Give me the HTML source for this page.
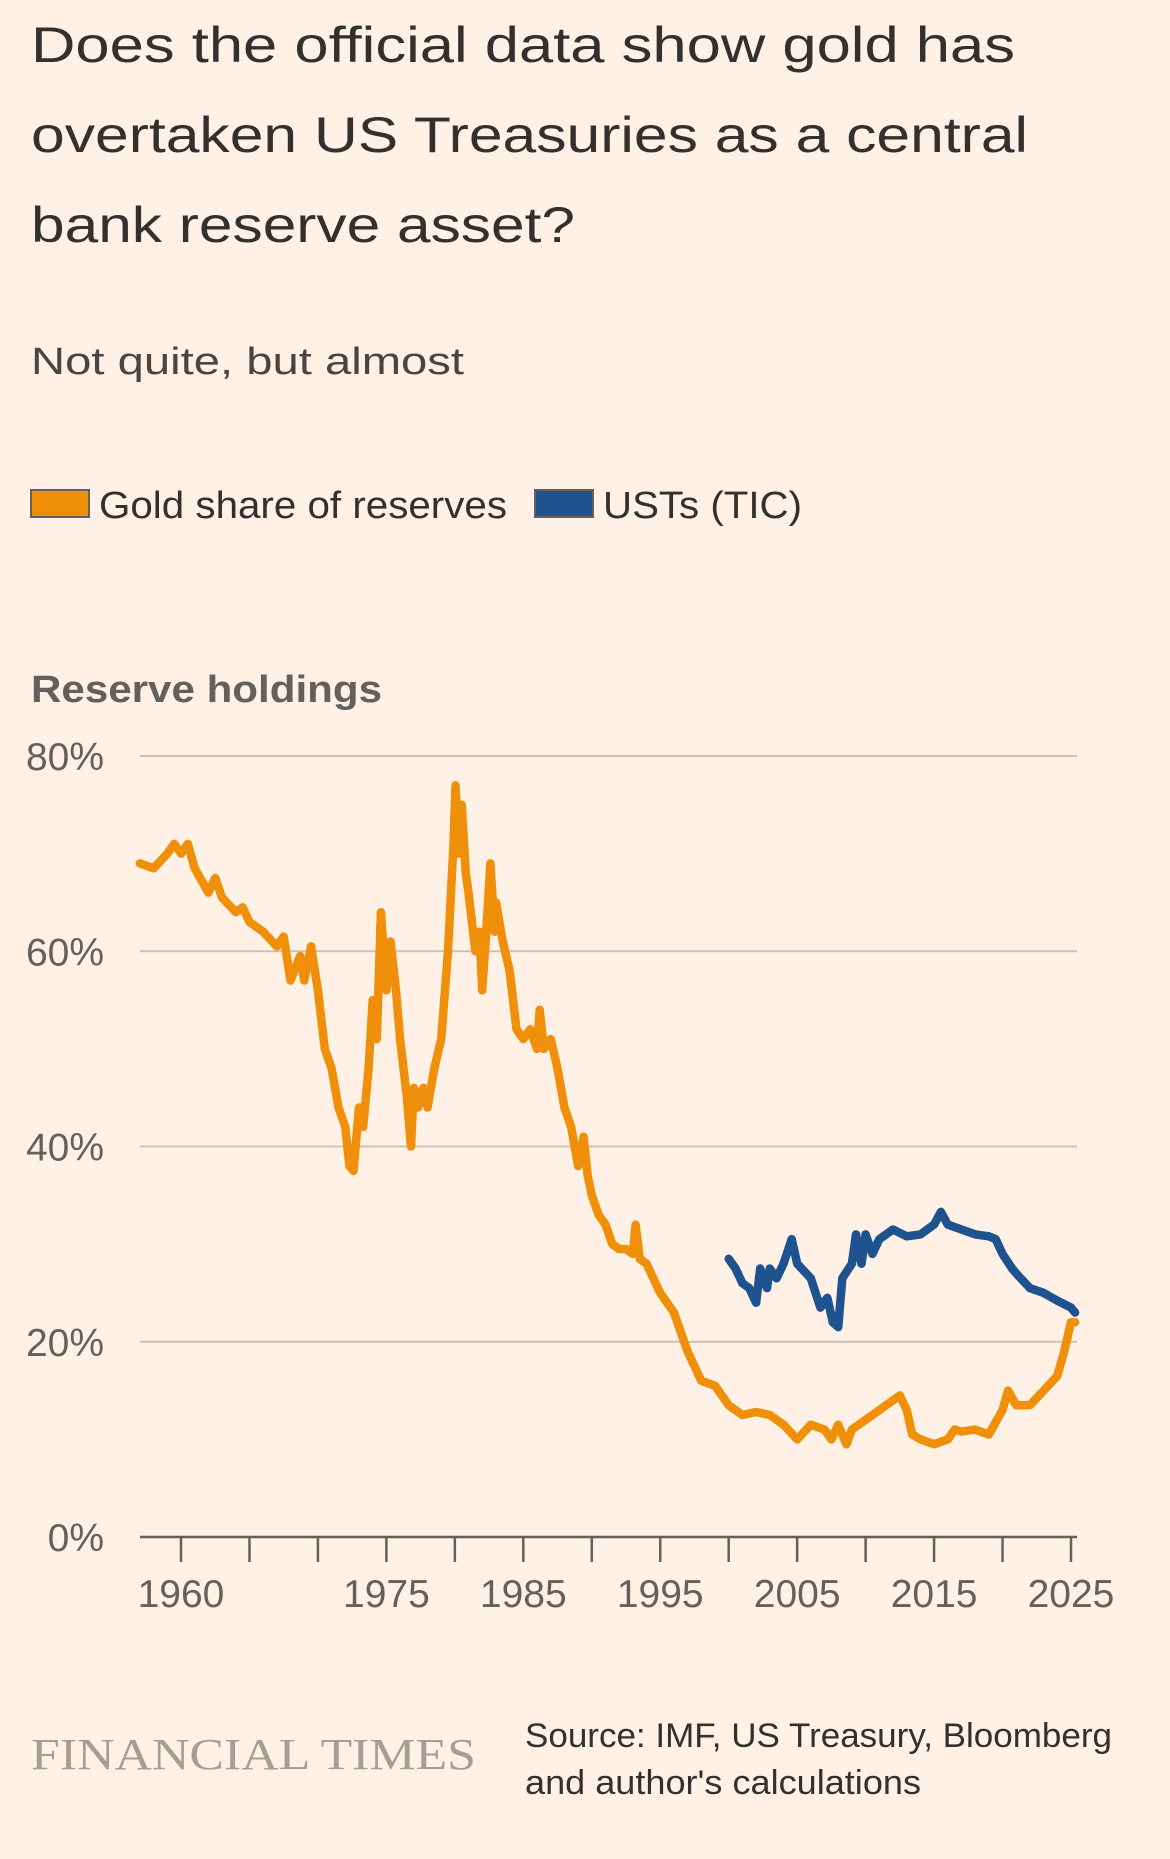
<!DOCTYPE html>
<html><head><meta charset="utf-8"><style>
html,body{margin:0;padding:0;background:#fff1e5;}
svg{display:block;font-family:"Liberation Sans",sans-serif;}
</style></head><body>
<svg id="chart" width="1170" height="1859" viewBox="0 0 1170 1859" xmlns="http://www.w3.org/2000/svg">
<rect width="1170" height="1859" fill="#fff1e5"/>
<g fill="#33302e" font-size="50">
<text x="31" y="62" textLength="984" lengthAdjust="spacingAndGlyphs">Does the official data show gold has</text>
<text x="31" y="152" textLength="997" lengthAdjust="spacingAndGlyphs">overtaken US Treasuries as a central</text>
<text x="31" y="242" textLength="544" lengthAdjust="spacingAndGlyphs">bank reserve asset?</text>
</g>
<text x="31" y="374" font-size="38" fill="#4a4543" textLength="433" lengthAdjust="spacingAndGlyphs">Not quite, but almost</text>
<g>
<rect x="31" y="490" width="58" height="27" fill="#f0900a" stroke="#66605c" stroke-width="2"/>
<text x="99" y="518" font-size="38" fill="#33302e" textLength="408" lengthAdjust="spacingAndGlyphs">Gold share of reserves</text>
<rect x="535" y="490" width="58" height="27" fill="#1e5390" stroke="#66605c" stroke-width="2"/>
<text x="603" y="518" font-size="38" fill="#33302e" textLength="199" lengthAdjust="spacingAndGlyphs">USTs (TIC)</text>
</g>
<text x="31" y="702" font-size="38" font-weight="bold" fill="#66605c" textLength="351" lengthAdjust="spacingAndGlyphs">Reserve holdings</text>
<g id="grid"></g>
<g id="series"></g>
<g>
<text x="31" y="1769" font-family="Liberation Serif,serif" font-size="44" fill="#a69d96" textLength="445" lengthAdjust="spacingAndGlyphs">FINANCIAL TIMES</text>
<text x="525" y="1747" font-size="34" fill="#33302e" textLength="587" lengthAdjust="spacingAndGlyphs">Source: IMF, US Treasury, Bloomberg</text>
<text x="525" y="1794" font-size="34" fill="#33302e" textLength="396" lengthAdjust="spacingAndGlyphs">and author's calculations</text>
</g>
</svg>
<script>
const yTicks=[0,20,40,60,80];
const yTickLabels=["0%","20%","40%","60%","80%"];
const xTickYears=[1960,1965,1970,1975,1980,1985,1990,1995,2000,2005,2010,2015,2020,2025];
const xLabelYears=[1960,1975,1985,1995,2005,2015,2025];
const goldYears=[1957,1958,1959,1959.5,1960,1960.5,1961,1962,1962.5,1963,1964,1964.5,1965,1966,1967,1967.5,1968,1968.7,1969,1969.5,1970,1970.5,1971,1971.5,1972,1972.3,1972.6,1973,1973.3,1973.7,1974,1974.3,1974.6,1975,1975.3,1975.7,1976,1976.5,1976.8,1977,1977.3,1977.7,1978,1978.5,1979,1979.5,1979.9,1980.05,1980.3,1980.5,1980.8,1981,1981.5,1981.8,1982,1982.3,1982.6,1982.9,1983,1983.5,1984,1984.5,1985,1985.5,1986,1986.2,1986.5,1987,1987.5,1988,1988.5,1989,1989.4,1989.7,1990,1990.5,1991,1991.5,1992,1992.5,1993,1993.2,1993.5,1994,1995,1996,1997,1998,1999,1999.5,2000,2001,2002,2003,2004,2005,2006,2007,2007.5,2008,2008.6,2009,2010,2011,2012,2012.5,2013,2013.4,2014,2015,2016,2016.5,2017,2018,2019,2020,2020.4,2021,2022,2023,2024,2024.5,2025,2025.3];
const goldValues=[69,68.5,70,71,70,71,68.5,66,67.5,65.5,64,64.5,63,62,60.5,61.5,57,59.5,57,60.5,56,50,48,44,42,38,37.5,44,42,48,55,51,64,56,61,56,51,45,40,46,44,46,44,48,51,60,71,77,70,75,68,66,60,62,56,62,69,62,65,61,58,52,51,52,50,54,50,51,48,44,42,38,41,37,35,33,32,30,29.5,29.5,29,32,28.5,28,25,23,19,16,15.5,14.5,13.5,12.5,12.8,12.5,11.5,10,11.5,11,10,11.5,9.5,11,12,13,14,14.5,13,10.5,10,9.5,10,11,10.8,11,10.5,13,15,13.5,13.5,15,16.5,19,22,22];
const ustYears=[2000,2000.5,2001,2001.5,2002,2002.3,2002.8,2003,2003.5,2004,2004.6,2005,2006,2006.7,2007.2,2007.6,2008,2008.3,2009,2009.3,2009.7,2010,2010.5,2011,2012,2013,2014,2015,2015.5,2016,2017,2018,2019,2019.5,2020,2020.7,2021,2022,2023,2024,2025,2025.3];
const ustValues=[28.5,27.5,26,25.5,24,27.5,25.5,27.5,26.5,28,30.5,28,26.5,23.5,24.5,22,21.5,26.5,28,31,28,31,29,30.5,31.5,30.8,31,32,33.3,32,31.5,31,30.8,30.5,29,27.5,27,25.5,25,24.2,23.5,23];

const NS="http://www.w3.org/2000/svg";
const xS=y=>181+(y-1960)*(1071-181)/65;
const yS=v=>1537-v*(1537-756)/80;
const grid=document.getElementById('grid');
const series=document.getElementById('series');
function mk(t,a,p){const e=document.createElementNS(NS,t);for(const k in a)e.setAttribute(k,a[k]);p.appendChild(e);return e;}
yTicks.forEach((v,i)=>{
  if(v>0){const l=mk('line',{x1:140,x2:1077,y1:yS(v),y2:yS(v),stroke:'#ccc1b7','stroke-width':2},grid);
  
  }
  const t=mk('text',{x:104,y:yS(v)+14,'text-anchor':'end','font-size':39,fill:'#66605c'},grid);
  t.textContent=yTickLabels[i];
  
  
});
const ax=mk('line',{x1:140,x2:1077,y1:yS(0),y2:yS(0),stroke:'#66605c','stroke-width':2.5},grid);


xTickYears.forEach(yr=>{
  const t=mk('line',{x1:xS(yr),x2:xS(yr),y1:yS(0),y2:yS(0)+25,stroke:'#66605c','stroke-width':2.5},grid);
  
  
});
xLabelYears.forEach(yr=>{
  const t=mk('text',{x:xS(yr),y:1607,'text-anchor':'middle','font-size':39,fill:'#66605c'},grid);
  t.textContent=String(yr);
  
  
});
function line(xs,vs,color,name){
  const d=xs.map((x,i)=>(i?'L':'M')+xS(x).toFixed(1)+','+yS(vs[i]).toFixed(1)).join('');
  const p=mk('path',{d:d,fill:'none',stroke:color,'stroke-width':8.5,'stroke-linejoin':'round','stroke-linecap':'round'},series);
  
  
}
line(goldYears,goldValues,'#f0900a','gold-share-line');
line(ustYears,ustValues,'#1e5390','usts-line');
</script>
</body></html>
